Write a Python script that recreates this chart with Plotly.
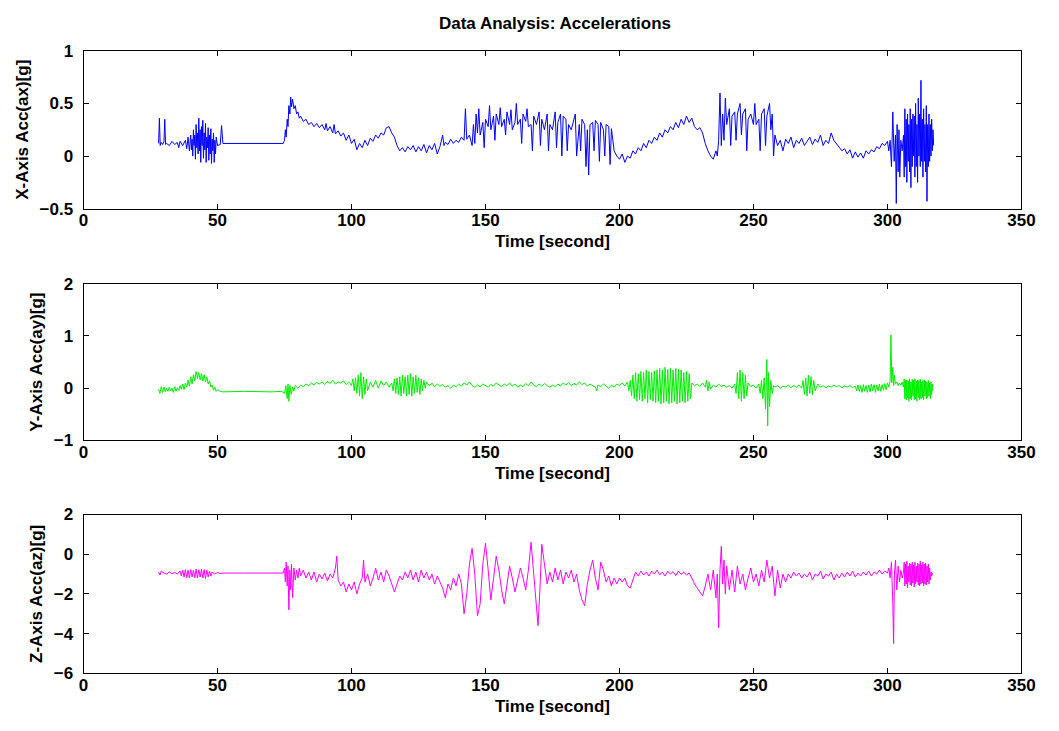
import plotly.graph_objects as go

# ---------------- data ----------------
chart_title = "Data Analysis: Accelerations"
time_label = "Time [second]"
y_labels = ["X-Axis Acc(ax)[g]", "Y-Axis Acc(ay)[g]", "Z-Axis Acc(az)[g]"]
time_ticks = [0, 50, 100, 150, 200, 250, 300, 350]
x_ticks = [-0.5, 0, 0.5, 1]
y_ticks = [-1, 0, 1, 2]
z_ticks = [-6, -4, -2, 0, 2]

# (time [s], acceleration [g]) readings, X axis
x_readings = [
    (28.0, 0.12), (28.3, 0.36), (28.6, 0.10), (29.0, 0.13), (29.5, 0.11), (30.0, 0.14), (30.3, 0.35), (30.6, 0.11), (31.0, 0.12), (32.0, 0.10),
    (33.0, 0.14), (34.0, 0.11), (35.0, 0.13), (35.5, 0.08), (36.0, 0.14), (37.0, 0.10), (38.0, 0.15), (38.5, 0.07), (39.0, 0.18), (39.5, 0.05),
    (40.0, 0.20), (40.25, 0.06), (40.5, 0.16), (40.75, 0.00), (41.0, 0.25), (41.25, 0.10), (41.5, 0.20), (41.75, -0.03), (42.0, 0.30), (42.25, 0.08),
    (42.5, 0.22), (42.75, 0.02), (43.0, 0.36), (43.25, 0.05), (43.5, 0.25), (43.75, -0.06), (44.0, 0.28), (44.25, 0.10), (44.5, 0.34), (44.75, -0.02),
    (45.0, 0.22), (45.25, 0.06), (45.5, 0.31), (45.75, -0.06), (46.0, 0.18), (46.25, 0.08), (46.5, 0.27), (46.75, -0.04), (47.0, 0.20), (47.25, 0.02),
    (47.5, 0.26), (47.75, -0.07), (48.0, 0.16), (48.25, 0.05), (48.5, 0.22), (48.75, -0.06), (49.0, 0.15), (49.25, 0.02), (49.5, 0.18), (50.0, 0.10),
    (51.0, 0.11), (51.5, 0.29), (52.0, 0.12), (53.0, 0.12), (60.0, 0.12), (70.0, 0.12), (74.5, 0.12), (75.0, 0.15),
    (75.3, 0.25), (75.6, 0.18), (76.0, 0.35), (76.3, 0.28), (76.6, 0.48), (77.0, 0.40), (77.3, 0.56), (77.6, 0.47), (78.0, 0.54), (78.5, 0.45),
    (79.0, 0.48), (79.5, 0.40), (80.0, 0.42), (80.5, 0.36), (81.0, 0.38), (82.0, 0.33), (83.0, 0.35), (84.0, 0.30), (85.0, 0.32), (86.0, 0.28),
    (87.0, 0.31), (88.0, 0.27), (89.0, 0.30), (90.0, 0.25), (90.5, 0.31), (91.0, 0.24), (92.0, 0.28), (93.0, 0.22), (93.5, 0.30), (94.0, 0.21),
    (95.0, 0.24), (96.0, 0.19), (97.0, 0.22), (98.0, 0.15), (99.0, 0.20), (100.0, 0.12), (101.0, 0.16), (102.0, 0.06), (103.0, 0.12), (104.0, 0.08),
    (105.0, 0.15), (106.0, 0.10), (107.0, 0.17), (108.0, 0.14), (109.0, 0.20), (110.0, 0.17), (111.0, 0.22), (112.0, 0.20), (113.0, 0.27), (114.0, 0.28),
    (115.0, 0.22), (116.0, 0.18), (117.0, 0.10), (118.0, 0.05), (119.0, 0.08), (120.0, 0.04), (121.0, 0.09), (122.0, 0.06), (123.0, 0.10), (124.0, 0.04),
    (125.0, 0.09), (126.0, 0.05), (127.0, 0.11), (128.0, 0.03), (129.0, 0.10), (130.0, 0.06), (131.0, 0.12), (132.0, 0.02), (133.0, 0.09), (134.0, 0.20),
    (134.5, 0.10), (135.0, 0.13), (136.0, 0.11), (137.0, 0.16), (138.0, 0.12), (139.0, 0.15), (140.0, 0.13), (141.0, 0.18), (142.0, 0.15), (142.5, 0.45),
    (143.0, 0.16), (144.0, 0.20), (145.0, 0.10), (145.5, 0.30), (146.0, 0.12), (146.5, 0.40), (147.0, 0.22), (147.5, 0.45), (148.0, 0.20), (149.0, 0.32),
    (149.5, 0.08), (150.0, 0.35), (151.0, 0.28), (151.5, 0.48), (152.0, 0.25), (153.0, 0.38), (153.5, 0.15), (154.0, 0.40), (155.0, 0.30), (155.5, 0.46),
    (156.0, 0.28), (157.0, 0.35), (157.5, 0.20), (158.0, 0.42), (159.0, 0.30), (159.5, 0.44), (160.0, 0.25), (161.0, 0.32), (161.5, 0.50), (162.0, 0.30),
    (163.0, 0.35), (163.5, 0.12), (164.0, 0.40), (165.0, 0.33), (165.5, 0.45), (166.0, 0.28), (167.0, 0.30), (167.5, 0.05), (168.0, 0.38), (169.0, 0.30),
    (170.0, 0.42), (170.5, 0.10), (171.0, 0.35), (172.0, 0.25), (173.0, 0.40), (173.5, 0.05), (174.0, 0.30), (175.0, 0.25), (176.0, 0.42), (176.5, 0.08),
    (177.0, 0.32), (178.0, 0.40), (178.5, 0.00), (179.0, 0.38), (180.0, 0.35), (180.5, 0.05), (181.0, 0.30), (182.0, 0.25), (183.0, 0.35), (183.5, 0.40),
    (184.0, 0.00), (185.0, 0.30), (185.5, 0.05), (186.0, 0.35), (187.0, 0.30), (187.5, -0.10), (188.0, 0.25), (188.5, -0.18), (189.0, 0.30), (190.0, 0.32),
    (190.5, 0.05), (191.0, 0.34), (192.0, 0.30), (192.5, -0.05), (193.0, 0.32), (194.0, 0.25), (194.5, 0.00), (195.0, 0.30), (196.0, 0.28), (196.5, -0.08),
    (197.0, 0.26), (198.0, 0.05), (199.0, 0.00), (200.0, -0.03), (201.0, 0.02), (202.0, -0.06), (203.0, 0.00), (204.0, -0.02), (205.0, 0.05), (206.0, 0.02),
    (207.0, 0.08), (208.0, 0.05), (209.0, 0.12), (210.0, 0.08), (211.0, 0.15), (212.0, 0.12), (213.0, 0.18), (214.0, 0.15), (215.0, 0.22), (216.0, 0.18),
    (217.0, 0.25), (218.0, 0.22), (219.0, 0.28), (220.0, 0.25), (221.0, 0.32), (222.0, 0.27), (223.0, 0.35), (224.0, 0.30), (225.0, 0.38), (226.0, 0.32),
    (227.0, 0.36), (228.0, 0.28), (229.0, 0.25), (230.0, 0.27), (231.0, 0.22), (232.0, 0.12), (233.0, 0.05), (234.0, 0.00), (235.0, -0.03), (236.0, 0.05),
    (236.5, 0.00), (237.0, 0.15), (237.5, 0.60), (238.0, 0.10), (238.5, 0.40), (239.0, 0.15), (239.5, 0.55), (240.0, 0.30), (241.0, 0.45), (241.5, 0.10),
    (242.0, 0.38), (243.0, 0.42), (243.5, 0.15), (244.0, 0.40), (245.0, 0.50), (245.5, 0.20), (246.0, 0.40), (247.0, 0.45), (247.5, 0.05), (248.0, 0.35),
    (249.0, 0.40), (250.0, 0.30), (250.5, 0.50), (251.0, 0.30), (252.0, 0.35), (252.5, 0.05), (253.0, 0.40), (254.0, 0.45), (254.5, 0.10), (255.0, 0.38),
    (256.0, 0.50), (256.5, 0.25), (257.0, 0.40), (257.5, 0.00), (258.0, 0.20), (259.0, 0.10), (260.0, 0.15), (261.0, 0.05), (262.0, 0.16), (263.0, 0.12),
    (264.0, 0.18), (265.0, 0.08), (266.0, 0.15), (267.0, 0.12), (268.0, 0.17), (269.0, 0.10), (270.0, 0.14), (271.0, 0.18), (272.0, 0.11), (273.0, 0.16),
    (274.0, 0.13), (275.0, 0.20), (276.0, 0.10), (277.0, 0.15), (278.0, 0.12), (279.0, 0.22), (280.0, 0.15), (281.0, 0.12), (282.0, 0.08), (283.0, 0.05),
    (284.0, 0.07), (285.0, 0.02), (286.0, 0.06), (287.0, -0.02), (288.0, 0.04), (289.0, -0.01), (290.0, 0.03), (291.0, -0.02), (292.0, 0.05), (293.0, 0.02),
    (294.0, 0.06), (295.0, 0.04), (296.0, 0.09), (297.0, 0.07), (298.0, 0.12), (299.0, 0.10), (300.0, 0.14), (300.5, 0.05), (301.0, 0.15), (301.5, -0.10),
    (302.0, 0.42), (302.5, -0.05), (303.0, 0.20), (303.3, -0.45), (303.6, 0.30), (304.0, -0.15), (304.3, 0.25), (304.6, -0.20), (305.0, 0.15), (305.5, 0.05),
    (306.0, 0.20), (306.25, -0.20), (306.5, 0.45), (306.75, -0.10), (307.0, 0.35), (307.25, -0.25), (307.5, 0.40), (307.75, -0.05), (308.0, 0.30), (308.25, -0.15),
    (308.5, 0.45), (308.75, -0.30), (309.0, 0.35), (309.25, -0.10), (309.5, 0.40), (309.75, 0.00), (310.0, 0.38), (310.25, -0.20), (310.5, 0.50), (310.75, -0.10),
    (311.0, 0.30), (311.25, -0.25), (311.5, 0.55), (311.75, 0.00), (312.0, 0.40), (312.25, -0.10), (312.5, 0.72), (312.75, -0.05), (313.0, 0.35), (313.25, -0.20),
    (313.5, 0.45), (313.75, -0.05), (314.0, 0.30), (314.25, -0.15), (314.5, 0.48), (314.75, -0.43), (315.0, 0.30), (315.25, -0.10), (315.5, 0.40), (315.75, -0.05),
    (316.0, 0.30), (316.25, 0.00), (316.5, 0.35), (316.75, 0.05), (317.0, 0.25), (317.25, 0.10),
]

# (time [s], acceleration [g]) readings, Y axis
y_readings = [
    (28.0, -0.02), (28.5, -0.10), (29.0, 0.03), (29.5, -0.08), (30.0, 0.02), (30.5, -0.07), (31.0, 0.00), (31.5, -0.06), (32.0, 0.02), (32.5, -0.05),
    (33.0, 0.00), (33.5, -0.08), (34.0, 0.03), (34.5, -0.06), (35.0, 0.01), (35.5, -0.04), (36.0, 0.05), (36.5, -0.02), (37.0, 0.08), (37.5, -0.03),
    (38.0, 0.10), (38.5, 0.02), (39.0, 0.15), (39.5, 0.04), (40.0, 0.22), (40.5, 0.08), (41.0, 0.26), (41.5, 0.14), (42.0, 0.32), (42.5, 0.18),
    (43.0, 0.30), (43.5, 0.16), (44.0, 0.28), (44.5, 0.14), (45.0, 0.26), (45.5, 0.12), (46.0, 0.22), (46.5, 0.08), (47.0, 0.14), (47.5, 0.02),
    (48.0, 0.06), (48.5, -0.04), (49.0, 0.02), (49.5, -0.06), (50.0, -0.03), (51.0, -0.06), (52.0, -0.07), (60.0, -0.06), (70.0, -0.07), (74.0, -0.06),
    (75.0, -0.10), (75.5, 0.05), (76.0, -0.20), (76.3, 0.08), (76.6, -0.25), (77.0, 0.05), (77.5, -0.12), (78.0, 0.02), (78.5, -0.05), (79.0, 0.05),
    (80.0, 0.00), (81.0, 0.06), (82.0, 0.03), (83.0, 0.08), (84.0, 0.05), (85.0, 0.10), (86.0, 0.06), (87.0, 0.11), (88.0, 0.08), (89.0, 0.12),
    (90.0, 0.07), (91.0, 0.13), (92.0, 0.09), (93.0, 0.15), (94.0, 0.08), (95.0, 0.12), (96.0, 0.10), (97.0, 0.14), (98.0, 0.07), (99.0, 0.12),
    (100.0, 0.05), (100.5, 0.18), (101.0, -0.05), (101.5, 0.20), (102.0, -0.10), (102.5, 0.25), (103.0, -0.15), (103.5, 0.30), (104.0, -0.20), (104.5, 0.22),
    (105.0, -0.12), (105.5, 0.18), (106.0, -0.05), (107.0, 0.12), (108.0, 0.02), (109.0, 0.15), (110.0, 0.00), (111.0, 0.14), (112.0, 0.05), (113.0, 0.12),
    (114.0, 0.02), (115.0, 0.10), (115.5, -0.05), (116.0, 0.18), (116.5, -0.10), (117.0, 0.20), (117.5, -0.12), (118.0, 0.22), (118.5, -0.15), (119.0, 0.25),
    (119.5, -0.10), (120.0, 0.22), (120.5, -0.15), (121.0, 0.25), (121.5, -0.12), (122.0, 0.28), (122.5, -0.15), (123.0, 0.22), (123.5, -0.10), (124.0, 0.25),
    (124.5, -0.08), (125.0, 0.20), (125.5, -0.12), (126.0, 0.18), (126.5, -0.05), (127.0, 0.15), (127.5, 0.00), (128.0, 0.12), (129.0, 0.05), (130.0, 0.10),
    (131.0, 0.03), (132.0, 0.08), (133.0, 0.04), (134.0, 0.07), (135.0, 0.02), (136.0, 0.05), (137.0, 0.00), (138.0, 0.06), (139.0, 0.03), (140.0, 0.08),
    (141.0, 0.04), (142.0, 0.10), (143.0, 0.06), (144.0, 0.12), (145.0, 0.05), (146.0, 0.02), (147.0, 0.06), (148.0, 0.03), (149.0, 0.08), (150.0, 0.05),
    (151.0, 0.02), (152.0, 0.07), (153.0, 0.04), (154.0, 0.10), (155.0, 0.06), (156.0, 0.03), (157.0, 0.08), (158.0, 0.05), (159.0, 0.10), (160.0, 0.04),
    (161.0, 0.08), (162.0, 0.02), (163.0, 0.06), (164.0, 0.03), (165.0, 0.09), (166.0, 0.05), (167.0, 0.12), (168.0, 0.06), (169.0, 0.03), (170.0, 0.08),
    (171.0, 0.04), (172.0, 0.09), (173.0, 0.05), (174.0, 0.02), (175.0, 0.06), (176.0, 0.03), (177.0, 0.08), (178.0, 0.04), (179.0, 0.10), (180.0, 0.06),
    (181.0, 0.11), (182.0, 0.05), (183.0, 0.09), (184.0, 0.06), (185.0, 0.12), (186.0, 0.07), (187.0, 0.10), (188.0, 0.04), (189.0, 0.08), (190.0, 0.05),
    (191.0, 0.02), (191.5, -0.05), (192.0, 0.06), (193.0, 0.03), (194.0, 0.08), (195.0, 0.04), (196.0, 0.00), (197.0, 0.06), (198.0, 0.02), (199.0, 0.08),
    (200.0, 0.05), (201.0, 0.10), (202.0, 0.04), (203.0, 0.12), (203.5, -0.05), (204.0, 0.15), (204.5, -0.15), (205.0, 0.25), (205.5, -0.20), (206.0, 0.30),
    (206.5, -0.25), (207.0, 0.28), (207.5, -0.22), (208.0, 0.32), (208.5, -0.25), (209.0, 0.30), (209.5, -0.20), (210.0, 0.35), (210.5, -0.28), (211.0, 0.32),
    (211.5, -0.22), (212.0, 0.30), (212.5, -0.25), (213.0, 0.33), (213.5, -0.28), (214.0, 0.35), (214.5, -0.25), (215.0, 0.38), (215.5, -0.30), (216.0, 0.35),
    (216.5, -0.28), (217.0, 0.40), (217.5, -0.25), (218.0, 0.36), (218.5, -0.30), (219.0, 0.38), (219.5, -0.28), (220.0, 0.35), (220.5, -0.25), (221.0, 0.38),
    (221.5, -0.30), (222.0, 0.36), (222.5, -0.28), (223.0, 0.35), (223.5, -0.25), (224.0, 0.30), (224.5, -0.28), (225.0, 0.32), (225.5, -0.25), (226.0, 0.28),
    (226.5, -0.20), (227.0, 0.10), (228.0, 0.05), (229.0, 0.08), (230.0, 0.03), (231.0, 0.10), (232.0, 0.02), (232.5, 0.15), (233.0, -0.05), (233.5, 0.12),
    (234.0, -0.02), (235.0, 0.06), (236.0, 0.02), (237.0, 0.08), (238.0, 0.03), (239.0, 0.06), (240.0, 0.02), (241.0, 0.05), (242.0, 0.00), (243.0, 0.08),
    (243.5, -0.10), (244.0, 0.30), (244.5, -0.20), (245.0, 0.35), (245.5, -0.25), (246.0, 0.30), (246.5, -0.20), (247.0, 0.25), (247.5, -0.15), (248.0, 0.10),
    (249.0, 0.03), (250.0, 0.06), (251.0, 0.00), (252.0, 0.08), (252.5, -0.10), (253.0, 0.15), (253.5, -0.20), (254.0, 0.20), (254.5, -0.40), (255.0, 0.55),
    (255.3, -0.72), (255.6, 0.30), (256.0, -0.35), (256.5, 0.15), (257.0, -0.10), (257.5, 0.05), (258.0, 0.02), (259.0, 0.05), (260.0, 0.00), (261.0, 0.04),
    (262.0, 0.02), (263.0, 0.06), (264.0, 0.01), (265.0, 0.05), (266.0, 0.02), (267.0, 0.06), (268.0, 0.00), (268.5, 0.15), (269.0, -0.12), (269.5, 0.20),
    (270.0, -0.15), (270.5, 0.25), (271.0, -0.10), (271.5, 0.22), (272.0, -0.12), (272.5, 0.15), (273.0, -0.05), (274.0, 0.08), (275.0, 0.02), (276.0, 0.05),
    (277.0, 0.01), (278.0, 0.04), (279.0, 0.02), (280.0, 0.06), (281.0, 0.03), (282.0, 0.05), (283.0, 0.01), (284.0, 0.04), (285.0, 0.02), (286.0, 0.05),
    (287.0, 0.01), (288.0, 0.04), (288.5, -0.05), (289.0, 0.06), (289.5, -0.06), (290.0, 0.05), (290.5, -0.08), (291.0, 0.07), (291.5, -0.06), (292.0, 0.05),
    (292.5, -0.08), (293.0, 0.06), (293.5, -0.07), (294.0, 0.08), (294.5, -0.05), (295.0, 0.07), (295.5, -0.08), (296.0, 0.06), (296.5, -0.05), (297.0, 0.08),
    (297.5, -0.06), (298.0, 0.07), (298.5, -0.04), (299.0, 0.09), (299.5, -0.03), (300.0, 0.10), (300.5, 0.02), (301.0, 0.15), (301.3, 1.02), (301.6, 0.10),
    (302.0, 0.40), (302.3, 0.05), (302.6, 0.25), (303.0, 0.08), (303.5, 0.12), (304.0, 0.05), (304.5, 0.10), (305.0, 0.06), (305.5, 0.12), (306.0, 0.02),
    (306.25, 0.18), (306.5, -0.20), (306.75, 0.15), (307.0, -0.22), (307.25, 0.16), (307.5, -0.18), (307.75, 0.14), (308.0, -0.25), (308.25, 0.18), (308.5, -0.20),
    (308.75, 0.12), (309.0, -0.22), (309.25, 0.17), (309.5, -0.15), (309.75, 0.15), (310.0, -0.22), (310.25, 0.18), (310.5, -0.20), (310.75, 0.14), (311.0, -0.25),
    (311.25, 0.16), (311.5, -0.18), (311.75, 0.15), (312.0, -0.22), (312.25, 0.17), (312.5, -0.20), (312.75, 0.12), (313.0, -0.18), (313.25, 0.15), (313.5, -0.22),
    (313.75, 0.16), (314.0, -0.15), (314.25, 0.14), (314.5, -0.20), (314.75, 0.12), (315.0, -0.18), (315.25, 0.15), (315.5, -0.15), (315.75, 0.10), (316.0, -0.20),
    (316.25, 0.12), (316.5, -0.12), (316.75, 0.08), (317.0, -0.05),
]

# (time [s], acceleration [g]) readings, Z axis
z_readings = [
    (28.0, -0.90), (28.5, -1.05), (29.0, -0.85), (30.0, -0.95), (31.0, -1.00), (32.0, -0.90), (33.0, -0.98), (34.0, -0.92), (35.0, -1.00), (36.0, -0.85),
    (36.5, -1.10), (37.0, -0.80), (37.5, -1.15), (38.0, -0.78), (38.5, -1.18), (39.0, -0.80), (39.5, -1.20), (40.0, -0.78), (40.5, -1.15), (41.0, -0.80),
    (41.5, -1.18), (42.0, -0.75), (42.5, -1.20), (43.0, -0.78), (43.5, -1.15), (44.0, -0.76), (44.5, -1.20), (45.0, -0.78), (45.5, -1.22), (46.0, -0.80),
    (46.5, -1.15), (47.0, -0.85), (47.5, -1.10), (48.0, -0.90), (49.0, -1.00), (50.0, -0.92), (51.0, -0.98), (52.0, -0.95), (60.0, -0.95), (74.5, -0.95),
    (75.0, -0.70), (75.3, -1.40), (75.6, -0.40), (76.0, -1.60), (76.3, -0.60), (76.6, -2.80), (77.0, -0.80), (77.3, -1.80), (77.6, -0.50), (78.0, -2.20),
    (78.5, -0.70), (79.0, -1.30), (79.5, -0.80), (80.0, -1.20), (80.5, -0.70), (81.0, -1.10), (82.0, -0.80), (83.0, -1.20), (84.0, -0.90), (85.0, -1.30),
    (86.0, -0.90), (87.0, -1.40), (88.0, -1.00), (89.0, -1.25), (90.0, -0.95), (91.0, -1.35), (92.0, -1.00), (93.0, -1.20), (94.0, -0.70), (94.5, -0.10),
    (95.0, -1.30), (96.0, -1.60), (97.0, -1.40), (98.0, -1.90), (99.0, -1.50), (100.0, -1.80), (101.0, -1.40), (102.0, -2.00), (103.0, -1.50), (104.0, -1.20),
    (104.5, -0.30), (105.0, -1.40), (106.0, -1.00), (107.0, -1.60), (108.0, -1.20), (109.0, -0.70), (110.0, -1.30), (111.0, -0.90), (112.0, -1.40), (113.0, -0.80),
    (114.0, -1.10), (115.0, -1.50), (116.0, -1.90), (117.0, -1.50), (118.0, -1.10), (119.0, -1.30), (120.0, -0.90), (121.0, -1.20), (122.0, -0.80), (123.0, -1.30),
    (124.0, -0.90), (125.0, -1.40), (126.0, -0.80), (127.0, -1.20), (128.0, -0.90), (129.0, -1.30), (130.0, -1.00), (131.0, -1.50), (132.0, -1.10), (133.0, -1.40),
    (134.0, -1.70), (135.0, -2.20), (136.0, -1.50), (137.0, -1.80), (138.0, -1.20), (139.0, -1.60), (140.0, -1.00), (141.0, -1.50), (142.0, -3.00), (143.0, -2.00),
    (144.0, -0.50), (145.0, 0.30), (146.0, -1.00), (147.0, -3.10), (148.0, -2.50), (149.0, -0.50), (150.0, 0.55), (151.0, -0.80), (152.0, -2.30), (153.0, -1.20),
    (154.0, -0.10), (155.0, -0.80), (156.0, -1.80), (157.0, -2.50), (158.0, -1.40), (159.0, -0.60), (160.0, -1.20), (161.0, -1.90), (162.0, -1.30), (163.0, -0.70),
    (164.0, -1.20), (165.0, -1.80), (166.0, -0.80), (167.0, 0.60), (168.0, -1.00), (169.0, -2.80), (169.6, -3.60), (170.3, -1.80), (171.0, 0.50), (172.0, -0.50),
    (173.0, -1.50), (174.0, -0.90), (175.0, -1.40), (176.0, -0.70), (177.0, -1.30), (178.0, -0.80), (179.0, -1.50), (180.0, -0.90), (181.0, -1.20), (182.0, -0.80),
    (183.0, -1.40), (184.0, -1.00), (185.0, -1.80), (186.0, -2.30), (187.0, -2.60), (188.0, -1.50), (189.0, -0.80), (190.0, -0.30), (191.0, -1.20), (192.0, -1.80),
    (193.0, -0.40), (194.0, -0.80), (195.0, -1.40), (196.0, -1.10), (197.0, -1.60), (198.0, -1.20), (199.0, -1.50), (200.0, -1.20), (201.0, -1.40), (202.0, -1.20),
    (203.0, -1.60), (204.0, -1.70), (205.0, -1.30), (206.0, -0.90), (207.0, -1.10), (208.0, -0.85), (209.0, -1.05), (210.0, -0.90), (211.0, -1.10), (212.0, -0.85),
    (213.0, -1.00), (214.0, -0.80), (215.0, -1.05), (216.0, -0.90), (217.0, -1.10), (218.0, -0.85), (219.0, -1.00), (220.0, -0.88), (221.0, -1.08), (222.0, -0.85),
    (223.0, -1.02), (224.0, -0.90), (225.0, -1.05), (226.0, -0.95), (227.0, -1.20), (228.0, -1.50), (229.0, -1.70), (230.0, -1.90), (231.0, -2.10), (232.0, -1.60),
    (233.0, -1.00), (234.0, -1.80), (235.0, -0.80), (236.0, -2.20), (236.5, -1.00), (237.0, -3.70), (237.5, -0.80), (238.0, 0.40), (238.5, -1.50), (239.0, -0.30),
    (239.5, -2.00), (240.0, -0.60), (241.0, -1.80), (242.0, -0.80), (243.0, -1.90), (244.0, -0.60), (245.0, -1.50), (246.0, -1.00), (247.0, -1.80), (248.0, -1.20),
    (249.0, -0.70), (250.0, -1.40), (251.0, -1.00), (252.0, -1.60), (253.0, -0.80), (254.0, -1.40), (255.0, -0.30), (256.0, -1.20), (257.0, -0.60), (258.0, -2.10),
    (259.0, -0.80), (260.0, -1.70), (261.0, -1.00), (262.0, -1.40), (263.0, -1.00), (264.0, -1.20), (265.0, -0.90), (266.0, -1.10), (267.0, -0.95), (268.0, -1.20),
    (269.0, -1.00), (270.0, -1.15), (271.0, -0.90), (272.0, -1.30), (273.0, -1.00), (274.0, -1.10), (275.0, -0.85), (276.0, -1.25), (277.0, -1.00), (278.0, -1.10),
    (279.0, -0.90), (280.0, -1.30), (281.0, -1.00), (282.0, -1.20), (283.0, -0.95), (284.0, -1.15), (285.0, -0.90), (286.0, -1.10), (287.0, -0.85), (288.0, -1.15),
    (289.0, -0.95), (290.0, -1.10), (291.0, -0.90), (292.0, -1.05), (293.0, -0.85), (294.0, -1.10), (295.0, -0.90), (296.0, -1.00), (297.0, -0.80), (298.0, -1.00),
    (299.0, -0.85), (300.0, -0.95), (300.5, -0.70), (301.0, -1.20), (301.5, -0.40), (302.0, -2.50), (302.3, -4.50), (302.6, -1.00), (303.0, -0.30), (303.5, -1.80),
    (304.0, -0.60), (304.5, -1.40), (305.0, -0.80), (305.5, -1.20), (306.0, -0.90), (306.25, -0.40), (306.5, -1.60), (306.75, -0.50), (307.0, -1.50), (307.25, -0.35),
    (307.5, -1.70), (307.75, -0.60), (308.0, -1.40), (308.25, -0.45), (308.5, -1.55), (308.75, -0.50), (309.0, -1.60), (309.25, -0.40), (309.5, -1.45), (309.75, -0.55),
    (310.0, -1.65), (310.25, -0.40), (310.5, -1.50), (310.75, -0.60), (311.0, -1.40), (311.25, -0.45), (311.5, -1.55), (311.75, -0.50), (312.0, -1.60), (312.25, -0.35),
    (312.5, -1.50), (312.75, -0.55), (313.0, -1.45), (313.25, -0.40), (313.5, -1.60), (313.75, -0.50), (314.0, -1.50), (314.25, -0.45), (314.5, -1.55), (314.75, -0.60),
    (315.0, -1.40), (315.25, -0.50), (315.5, -1.50), (315.75, -0.70), (316.0, -1.30), (316.25, -0.90), (316.5, -1.10), (316.75, -0.95), (317.0, -1.00),
]

series_colors = ["#0000ff", "#00ee00", "#ff00ff"]
y_ranges = [[-0.5, 1], [-1, 2], [-6, 2]]
y_tickvals = [x_ticks, y_ticks, z_ticks]

# ---------------- figure ----------------
W, H = 1059, 731
FONT = "Liberation Sans, Arial, Helvetica, sans-serif"

# axes boxes in pixels (left, right, top, bottom)
left_px, right_px = 80, 1035
boxes = [(43, 205), (282, 443), (519, 682)]

fig = go.Figure()
for i, (readings, color) in enumerate(zip([x_readings, y_readings, z_readings], series_colors)):
    t_vals = [r[0] for r in readings]
    a_vals = [r[1] for r in readings]
    sfx = "" if i == 0 else str(i + 1)
    fig.add_trace(go.Scatter(
        x=t_vals, y=a_vals, mode="lines",
        line=dict(color=color, width=1),
        xaxis="x" + sfx, yaxis="y" + sfx, showlegend=False,
        hoverinfo="skip",
    ))

common = dict(
    showline=True, linecolor="black", linewidth=1, mirror="ticks",
    ticks="inside", ticklen=5, tickcolor="black", tickwidth=1,
    showgrid=False, zeroline=False,
    tickfont=dict(family=FONT, size=17, color="black", weight="bold"),
)

layout = dict(
    width=W, height=H,
    margin=dict(l=0, r=0, t=0, b=0),
    paper_bgcolor="white", plot_bgcolor="white",
    title=dict(text=chart_title, x=555 / W, y=1 - 23 / H, xanchor="center", yanchor="middle",
               font=dict(family=FONT, size=17, color="black", weight="bold")),
    showlegend=False,
)

for i, (top, bot) in enumerate(boxes):
    sfx = "" if i == 0 else str(i + 1)
    xa = dict(common)
    xa.update(
        domain=[left_px / W, right_px / W],
        range=[0, 350], tickvals=time_ticks,
        anchor="y" + sfx,
        ticklabelstandoff=-4,
        title=dict(text=time_label, standoff=6,
                   font=dict(family=FONT, size=17, color="black", weight="bold")),
    )
    ya = dict(common)
    ya.update(
        domain=[1 - bot / H, 1 - top / H],
        range=y_ranges[i], tickvals=y_tickvals[i],
        anchor="x" + sfx,
        ticklabelstandoff=6,
        title=dict(text=y_labels[i], standoff=6,
                   font=dict(family=FONT, size=17, color="black", weight="bold")),
    )
    layout["xaxis" + sfx] = xa
    layout["yaxis" + sfx] = ya

fig.update_layout(**layout)
fig.write_html("out.html")
